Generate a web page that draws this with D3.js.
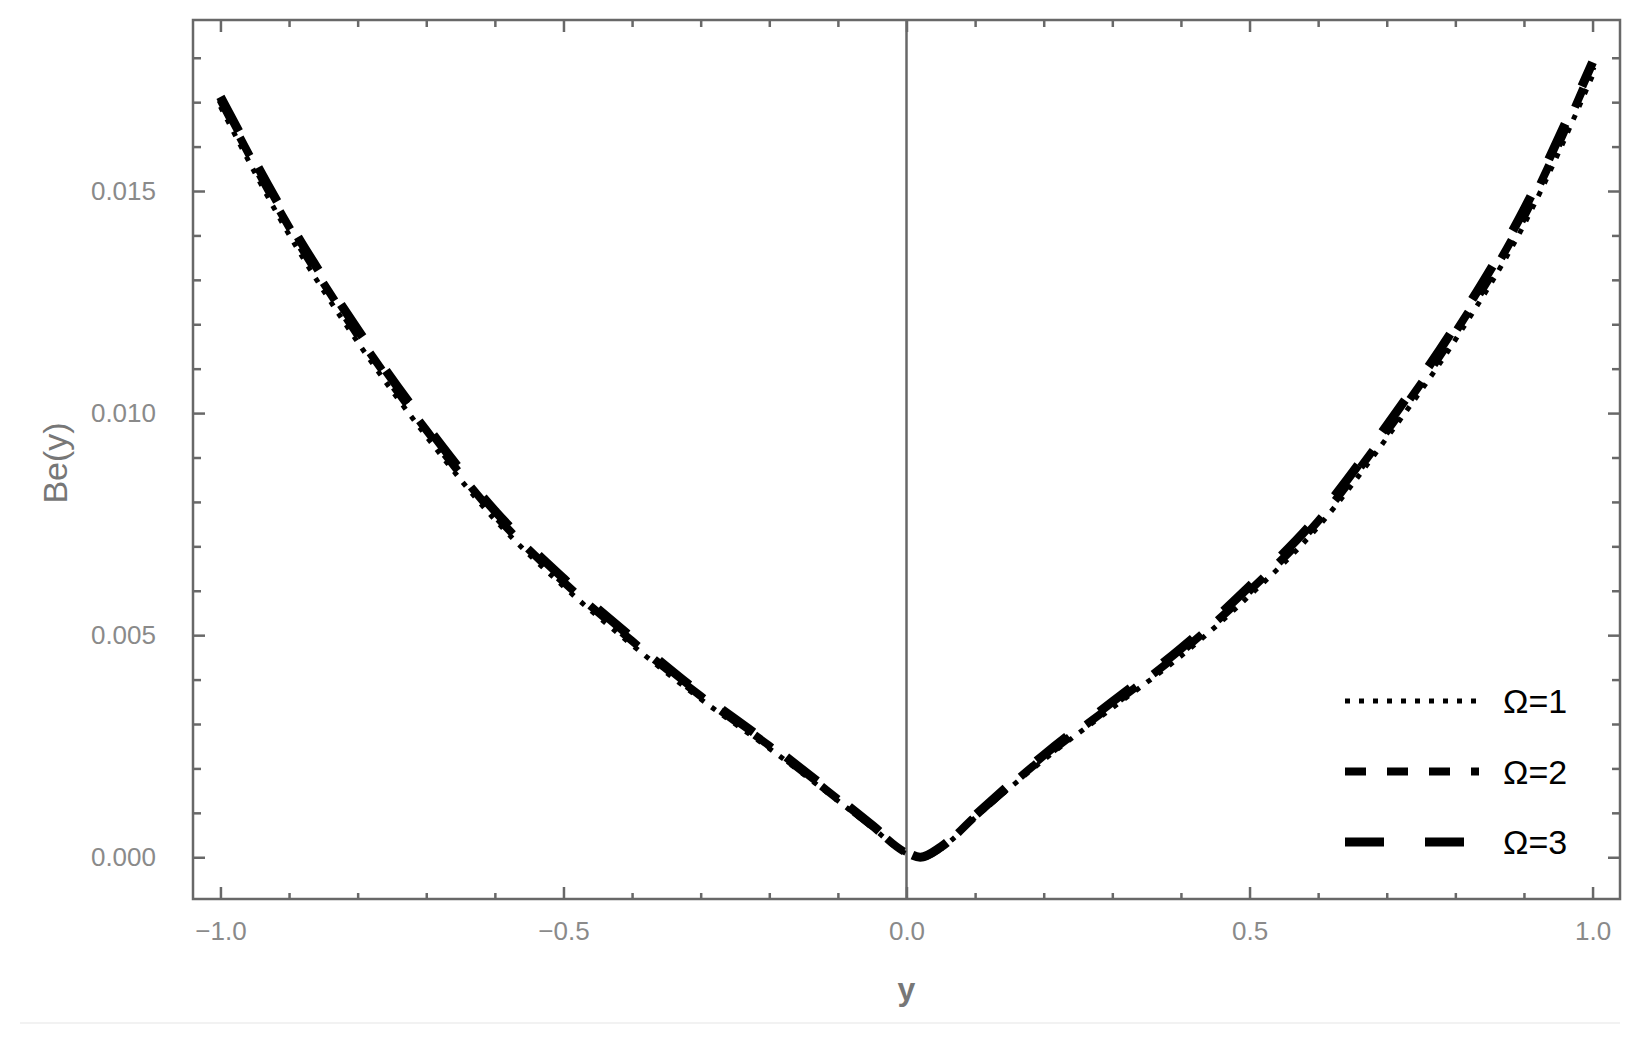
<!DOCTYPE html>
<html>
<head>
<meta charset="utf-8">
<script src="https://cdn.jsdelivr.net/npm/d3@7"></script>
<style>
  body { margin: 0; background: #fff; }
  text { font-family: "Liberation Sans", Arial, sans-serif; }
</style>
</head>
<body>
<div id="chart"></div>
<script>
// y positions (x-axis) shared by all curves
const yGrid = [-1.0, -0.9, -0.8, -0.7, -0.6, -0.5, -0.4, -0.3, -0.2, -0.1, -0.05, 0.0, 0.02, 0.05, 0.1, 0.2, 0.3, 0.4, 0.5, 0.6, 0.7, 0.8, 0.9, 1.0];

// Be(y) for each Omega
const beOmega1 = [0.01690, 0.01402, 0.01160, 0.00948, 0.00760, 0.00610, 0.00478, 0.00356, 0.00245, 0.00127, 0.00067, 0.00008, 0.00000, 0.00020, 0.00089, 0.00219, 0.00336, 0.00453, 0.00589, 0.00744, 0.00944, 0.01165, 0.01424, 0.01760];
const beOmega2 = [0.01705, 0.01419, 0.01176, 0.00962, 0.00771, 0.00620, 0.00487, 0.00363, 0.00251, 0.00131, 0.00070, 0.00010, 0.00000, 0.00022, 0.00092, 0.00225, 0.00343, 0.00462, 0.00600, 0.00757, 0.00959, 0.01182, 0.01442, 0.01780];
const beOmega3 = [0.01712, 0.01430, 0.01188, 0.00972, 0.00780, 0.00628, 0.00494, 0.00368, 0.00255, 0.00134, 0.00072, 0.00011, 0.00000, 0.00023, 0.00094, 0.00230, 0.00350, 0.00470, 0.00610, 0.00768, 0.00972, 0.01196, 0.01458, 0.01790];

const legendLabels = ["\u03A9=1", "\u03A9=2", "\u03A9=3"];

const xMajorTicks = [-1.0, -0.5, 0.0, 0.5, 1.0];
const xMinorTicks = [-0.9, -0.8, -0.7, -0.6, -0.4, -0.3, -0.2, -0.1, 0.1, 0.2, 0.3, 0.4, 0.6, 0.7, 0.8, 0.9];
const yMajorTicks = [0.000, 0.005, 0.010, 0.015];
const yMinorTicks = [0.001, 0.002, 0.003, 0.004, 0.006, 0.007, 0.008, 0.009, 0.011, 0.012, 0.013, 0.014, 0.016, 0.017, 0.018];

const width = 1649;
const height = 1043;
const frame = {left: 193, right: 1620, top: 20, bottom: 899};
const frameColor = "#686868";
const labelColor = "#8a8a8a";

// line styles: dotted, dashed, long dashed
const styles = [
  {dash: "5,9", width: 5},
  {dash: "21,21", width: 8},
  {dash: "39,41", width: 9}
];

const svg = d3.select("#chart").append("svg")
  .attr("width", width)
  .attr("height", height);

svg.append("rect")
  .attr("width", width).attr("height", height)
  .attr("fill", "#fff");

const xScale = d3.scaleLinear()
  .domain([-1.04, 1.04])
  .range([frame.left, frame.right]);

const yScale = d3.scaleLinear()
  .domain([-0.00094, 0.01885])
  .range([frame.bottom, frame.top]);

// faint line under the figure
svg.append("line")
  .attr("x1", 20).attr("x2", frame.right)
  .attr("y1", 1023).attr("y2", 1023)
  .attr("stroke", "#eeeeee").attr("stroke-width", 1.5);

function styleAxis(g) {
  g.select(".domain").remove();
  g.selectAll(".tick line").attr("stroke", frameColor).attr("stroke-width", 2.5);
  g.selectAll(".tick text")
    .attr("fill", labelColor)
    .style("font-size", "26px")
    .style("font-family", "'Liberation Sans', Arial, sans-serif");
}

// bottom axis
svg.append("g")
  .attr("transform", `translate(0, ${frame.bottom})`)
  .call(d3.axisBottom(xScale).tickValues(xMajorTicks).tickSize(-12).tickPadding(23)
    .tickFormat(d => d3.format(".1f")(d).replace("-", "\u2212")))
  .call(styleAxis);
svg.append("g")
  .attr("transform", `translate(0, ${frame.bottom})`)
  .call(d3.axisBottom(xScale).tickValues(xMinorTicks).tickSize(-6).tickFormat(""))
  .call(styleAxis);

// top axis (mirror)
svg.append("g")
  .attr("transform", `translate(0, ${frame.top})`)
  .call(d3.axisTop(xScale).tickValues(xMajorTicks).tickSize(-12).tickFormat(""))
  .call(styleAxis);
svg.append("g")
  .attr("transform", `translate(0, ${frame.top})`)
  .call(d3.axisTop(xScale).tickValues(xMinorTicks).tickSize(-7).tickFormat(""))
  .call(styleAxis);

// left axis
svg.append("g")
  .attr("transform", `translate(${frame.left}, 0)`)
  .call(d3.axisLeft(yScale).tickValues(yMajorTicks).tickSize(-12).tickPadding(37)
    .tickFormat(d3.format(".3f")))
  .call(styleAxis);
svg.append("g")
  .attr("transform", `translate(${frame.left}, 0)`)
  .call(d3.axisLeft(yScale).tickValues(yMinorTicks).tickSize(-8).tickFormat(""))
  .call(styleAxis);

// right axis (mirror)
svg.append("g")
  .attr("transform", `translate(${frame.right}, 0)`)
  .call(d3.axisRight(yScale).tickValues(yMajorTicks).tickSize(-12).tickFormat(""))
  .call(styleAxis);
svg.append("g")
  .attr("transform", `translate(${frame.right}, 0)`)
  .call(d3.axisRight(yScale).tickValues(yMinorTicks).tickSize(-8).tickFormat(""))
  .call(styleAxis);

// frame
svg.append("rect")
  .attr("x", frame.left).attr("y", frame.top)
  .attr("width", frame.right - frame.left)
  .attr("height", frame.bottom - frame.top)
  .attr("fill", "none")
  .attr("stroke", frameColor)
  .attr("stroke-width", 2.5);

// vertical line at y = 0
svg.append("line")
  .attr("x1", xScale(0)).attr("x2", xScale(0))
  .attr("y1", frame.top).attr("y2", frame.bottom)
  .attr("stroke", frameColor)
  .attr("stroke-width", 2.5);

// curves
const series = [beOmega1, beOmega2, beOmega3];
const line = d3.line()
  .x((d, i) => xScale(yGrid[i]))
  .y(d => yScale(d))
  .curve(d3.curveMonotoneX);

series.forEach((vals, i) => {
  svg.append("path")
    .datum(vals)
    .attr("fill", "none")
    .attr("stroke", "#000")
    .attr("stroke-width", styles[i].width)
    .attr("stroke-dasharray", styles[i].dash)
    .attr("d", line);
});

// legend
const legend = svg.append("g");
legendLabels.forEach((lab, i) => {
  const ly = 701 + i * 70.5;
  legend.append("line")
    .attr("x1", 1345).attr("x2", 1479)
    .attr("y1", ly).attr("y2", ly)
    .attr("stroke", "#000")
    .attr("stroke-width", styles[i].width)
    .attr("stroke-dasharray", styles[i].dash);
  legend.append("text")
    .attr("x", 1503).attr("y", ly + 12)
    .attr("fill", "#000")
    .style("font-size", "34px")
    .text(lab);
});

// axis titles
svg.append("text")
  .attr("x", xScale(0)).attr("y", 1000)
  .attr("text-anchor", "middle")
  .attr("fill", "#777")
  .style("font-size", "32px")
  .style("font-weight", "bold")
  .text("y");

svg.append("text")
  .attr("transform", `translate(67, 463) rotate(-90)`)
  .attr("text-anchor", "middle")
  .attr("fill", "#777")
  .style("font-size", "34px")
  .text("Be(y)");
</script>
</body>
</html>
